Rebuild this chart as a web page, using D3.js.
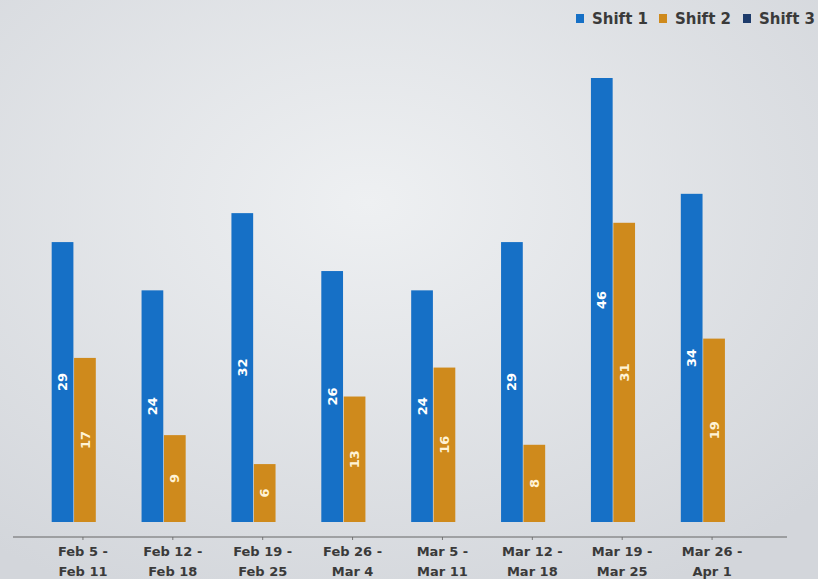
<!DOCTYPE html>
<html>
<head>
<meta charset="utf-8">
<script src="https://cdn.jsdelivr.net/npm/d3@7"></script>
<style>
  html, body { margin: 0; padding: 0; background: #e2e4e8; }
  svg { display: block; }
</style>
</head>
<body>
<div id="chart"></div>
<script>
// week ranges (two lines each)
const weeks = [
  ["Feb 5 -", "Feb 11"],
  ["Feb 12 -", "Feb 18"],
  ["Feb 19 -", "Feb 25"],
  ["Feb 26 -", "Mar 4"],
  ["Mar 5 -", "Mar 11"],
  ["Mar 12 -", "Mar 18"],
  ["Mar 19 -", "Mar 25"],
  ["Mar 26 -", "Apr 1"]
];
const seriesNames = ["Shift 1", "Shift 2", "Shift 3"];
const shift1 = [29, 24, 32, 26, 24, 29, 46, 34];
const shift2 = [17, 9, 6, 13, 16, 8, 31, 19];
const shift3 = [0, 0, 0, 0, 0, 0, 0, 0];

const colors = { "Shift 1": "#1670c6", "Shift 2": "#cf8a1c", "Shift 3": "#1d3b6b" };
const labelColors = { "Shift 1": "#ffffff", "Shift 2": "#fff3d6", "Shift 3": "#ffffff" };

const width = 818, height = 579;

const svg = d3.select("#chart").append("svg")
  .attr("width", width)
  .attr("height", height);

// background like the lit screen
const defs = svg.append("defs");
const grad = defs.append("radialGradient").attr("id", "bg")
  .attr("cx", "45%").attr("cy", "35%").attr("r", "75%");
grad.append("stop").attr("offset", "0%").attr("stop-color", "#eef0f2");
grad.append("stop").attr("offset", "100%").attr("stop-color", "#d3d6db");
svg.append("rect").attr("width", width).attr("height", height).attr("fill", "url(#bg)");

// scales
const weekKeys = weeks.map(w => w.join(" "));
const x0 = d3.scaleBand()
  .domain(weekKeys)
  .range([38, 757])
  .paddingInner(0.26)
  .paddingOuter(0.13);

const x1 = d3.scaleBand()
  .domain(seriesNames)
  .range([0, x0.bandwidth()])
  .paddingInner(0.03);

const y = d3.scaleLinear()
  .domain([0, 46])
  .range([522, 78]);

const data = weekKeys.map((k, i) => ({
  key: k,
  values: [
    { name: "Shift 1", value: shift1[i] },
    { name: "Shift 2", value: shift2[i] },
    { name: "Shift 3", value: shift3[i] }
  ]
}));

// bars
const group = svg.selectAll(".group")
  .data(data)
  .enter()
  .append("g")
  .attr("class", "group")
  .attr("transform", d => `translate(${x0(d.key) + 2},0)`);

group.selectAll("rect")
  .data(d => d.values)
  .enter()
  .append("rect")
  .attr("x", d => x1(d.name))
  .attr("y", d => y(d.value))
  .attr("width", x1.bandwidth())
  .attr("height", d => y(0) - y(d.value))
  .attr("fill", d => colors[d.name]);

// value labels, rotated, centered in the bar
group.selectAll("text")
  .data(d => d.values.filter(v => v.value > 0))
  .enter()
  .append("text")
  .attr("transform", d => `translate(${x1(d.name) + x1.bandwidth() / 2},${(y(d.value) + y(0)) / 2}) rotate(-90)`)
  .attr("text-anchor", "middle")
  .attr("dy", "0.35em")
  .style("font-family", "DejaVu Sans, sans-serif")
  .style("font-size", "13px")
  .style("font-weight", "bold")
  .style("fill", d => labelColors[d.name])
  .text(d => d.value);

// x axis
const axisY = 537;
const xAxis = svg.append("g")
  .attr("transform", `translate(0,${axisY})`)
  .call(d3.axisBottom(x0).tickSize(3).tickFormat(""));
xAxis.select(".domain").remove();
xAxis.selectAll(".tick line").attr("stroke", "#777");
xAxis.append("line")
  .attr("x1", 13).attr("x2", 787)
  .attr("stroke", "#666").attr("stroke-width", 1.2);

xAxis.selectAll(".tick").each(function(d, i) {
  const t = d3.select(this).append("text")
    .attr("text-anchor", "middle")
    .style("font-family", "DejaVu Sans, sans-serif")
    .style("font-size", "13px")
    .style("font-weight", "bold")
    .style("fill", "#3a3a3a");
  t.append("tspan").attr("x", 0).attr("y", 19).text(weeks[i][0]);
  t.append("tspan").attr("x", 0).attr("y", 39).text(weeks[i][1]);
});

// legend
const legendX = [576, 659, 743];
const legend = svg.selectAll(".legend")
  .data(seriesNames)
  .enter()
  .append("g")
  .attr("class", "legend")
  .attr("transform", (d, i) => `translate(${legendX[i]},14)`);

legend.append("rect")
  .attr("width", 8).attr("height", 9)
  .attr("fill", d => colors[d]);

legend.append("text")
  .attr("x", 16).attr("y", 10)
  .style("font-family", "DejaVu Sans, sans-serif")
  .style("font-size", "15px")
  .style("font-weight", "bold")
  .style("fill", "#3a3a3a")
  .text(d => d);
</script>
</body>
</html>
